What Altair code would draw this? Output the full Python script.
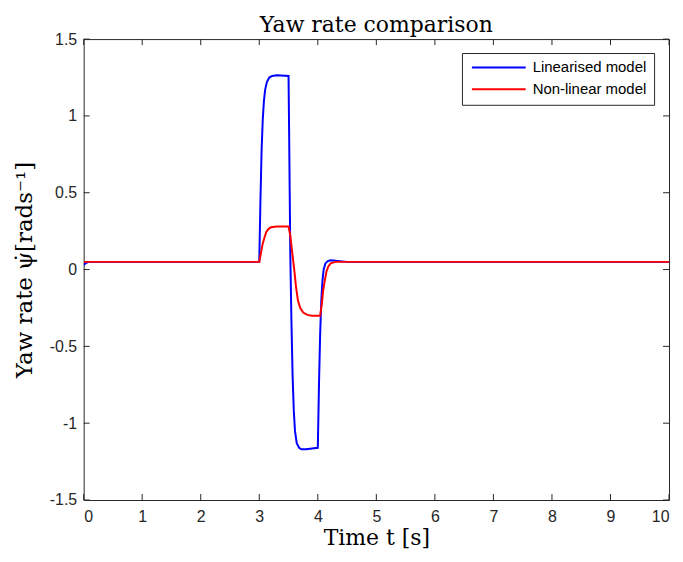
import altair as alt
import pandas as pd

# Linearised model samples (t [s], yaw rate)
t_lin = [0.0, 0.03, 0.08, 3.0, 3.02, 3.04, 3.06, 3.08, 3.10, 3.13, 3.17, 3.22, 3.3, 3.5,
         3.51, 3.52, 3.53, 3.55, 3.57, 3.59, 3.61, 3.64, 3.68, 3.72, 3.8, 3.9, 4.0,
         4.02, 4.04, 4.06, 4.08, 4.10, 4.13, 4.17, 4.22, 4.3, 4.5, 10.0]
y_lin = [0.03, 0.04, 0.05, 0.05, 0.45, 0.78, 0.98, 1.10, 1.17, 1.22, 1.25, 1.26, 1.265, 1.26,
         0.90, 0.50, 0.10, -0.35, -0.70, -0.92, -1.05, -1.13, -1.16, -1.17, -1.17, -1.165, -1.16,
         -0.75, -0.42, -0.20, -0.07, 0.0, 0.04, 0.055, 0.06, 0.057, 0.05, 0.05]

# Non-linear model samples
t_nl = [0.0, 3.0, 3.03, 3.06, 3.09, 3.12, 3.16, 3.2, 3.3, 3.5,
        3.53, 3.56, 3.6, 3.63, 3.66, 3.7, 3.75, 3.82, 3.9, 4.04,
        4.07, 4.09, 4.12, 4.15, 4.18, 4.22, 4.3, 10.0]
y_nl = [0.05, 0.05, 0.11, 0.17, 0.21, 0.245, 0.265, 0.275, 0.28, 0.28,
        0.22, 0.12, -0.01, -0.12, -0.20, -0.25, -0.28, -0.295, -0.30, -0.30,
        -0.22, -0.14, -0.07, -0.01, 0.02, 0.04, 0.05, 0.05]

series = ["Linearised model", "Non-linear model"]
colors = ["#0000ff", "#ff0000"]
x_ticks = [0, 1, 2, 3, 4, 5, 6, 7, 8, 9, 10]
y_ticks = [-1.5, -1, -0.5, 0, 0.5, 1, 1.5]

W, H = 588, 463
AX = "#262626"
SERIF = "DejaVu Serif"

df = pd.concat([
    pd.DataFrame({"t": t_lin, "y": y_lin, "model": series[0], "o": range(len(t_lin))}),
    pd.DataFrame({"t": t_nl, "y": y_nl, "model": series[1], "o": range(len(t_nl))}),
])

xscale = alt.Scale(domain=[0, 10], nice=False, zero=False)
yscale = alt.Scale(domain=[-1.5, 1.5], nice=False, zero=False)

lines = alt.Chart(df).mark_line(strokeWidth=2, clip=True).encode(
    x=alt.X("t:Q", scale=xscale,
            axis=alt.Axis(values=x_ticks, tickSize=0, labelPadding=9, grid=False,
                          domain=False, title="Time t [s]", format="~g",
                          titleFontSize=22)),
    y=alt.Y("y:Q", scale=yscale,
            axis=alt.Axis(values=y_ticks, tickSize=0, labelPadding=7, grid=False,
                          domain=False, title="Yaw rate \u03c8\u0307[rads\u207b\u00b9]",
                          format="~g", titleFontSize=23,
                          labelExpr="replace(datum.label, '\u2212', '-')")),
    color=alt.Color("model:N", scale=alt.Scale(domain=series, range=colors),
                    legend=alt.Legend(title=None, orient="none", legendX=380, legendY=14,
                                      symbolType="M-1,0H11", symbolSize=81,
                                      symbolStrokeWidth=2, labelOffset=49,
                                      labelFontSize=15,
                                      labelFont="Liberation Sans", labelColor="#000000",
                                      fillColor="white", strokeColor=AX, padding=7,
                                      rowPadding=6)),
    order="o:Q",
)

xt = pd.DataFrame({"v": x_ticks})
yt = pd.DataFrame({"v": y_ticks})
tl = 6
bx = alt.Chart(xt).mark_rule(color=AX, strokeWidth=1).encode(
    x=alt.X("v:Q", scale=xscale), y=alt.value(H), y2=alt.value(H - tl))
tx = alt.Chart(xt).mark_rule(color=AX, strokeWidth=1).encode(
    x=alt.X("v:Q", scale=xscale), y=alt.value(0), y2=alt.value(tl))
ly = alt.Chart(yt).mark_rule(color=AX, strokeWidth=1).encode(
    y=alt.Y("v:Q", scale=yscale), x=alt.value(0), x2=alt.value(tl))
ry = alt.Chart(yt).mark_rule(color=AX, strokeWidth=1).encode(
    y=alt.Y("v:Q", scale=yscale), x=alt.value(W - tl), x2=alt.value(W))

chart = alt.layer(bx, tx, ly, ry, lines).properties(
    width=W, height=H,
    title=alt.Title("Yaw rate comparison", font=SERIF, fontSize=22,
                    fontWeight="normal", color="#000000", offset=-6),
).configure_view(stroke=AX, strokeWidth=1).configure_axis(
    labelFont="Liberation Sans", labelFontSize=16, labelColor=AX,
    titleFont=SERIF, titleFontWeight="normal",
    titleColor="#000000",
).configure_axisX(titlePadding=3).configure_axisY(titlePadding=13)

chart.save("out.html", embed_options={"renderer": "svg", "actions": False})
